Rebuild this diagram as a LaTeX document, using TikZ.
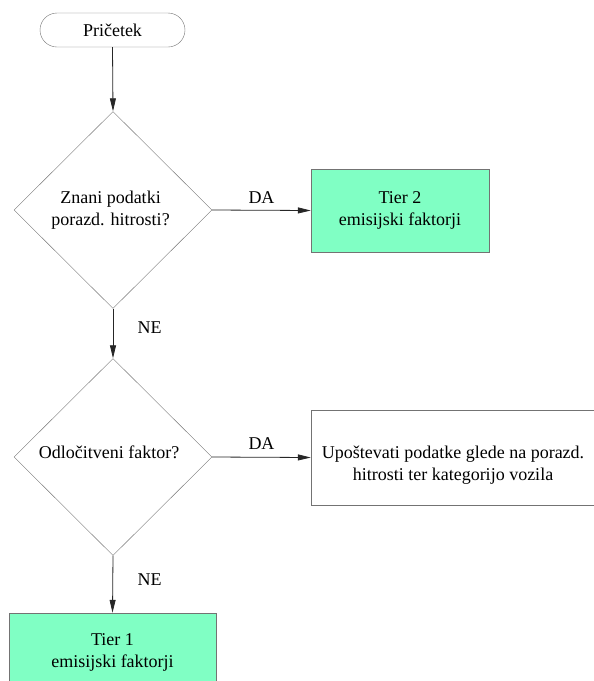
\documentclass[tikz,border=0pt]{standalone}
\usepackage{fontspec}
\setmainfont{Liberation Serif}
\usepackage{tikz}
\usetikzlibrary{positioning,arrows.meta,shapes.geometric}

\definecolor{tiergreen}{RGB}{128,255,196}

\begin{document}
\begin{tikzpicture}[x=1pt,y=-1pt,font=\fontsize{18}{22}\selectfont]
            \tikzstyle{startstop}=[draw=black!55, rounded corners=17pt, minimum width=145pt, minimum height=34pt, inner sep=0pt]
            \tikzstyle{decision}=[draw=black!55, diamond, aspect=1, minimum width=198pt, minimum height=197pt, inner sep=0pt, align=center]
            \tikzstyle{tierbox}=[draw=black!55, fill=tiergreen, inner sep=0pt, align=center]
            \tikzstyle{plainbox}=[draw=black!55, inner sep=0pt, align=center]
            \tikzstyle{line}=[draw=black!85, line width=0.8pt, -{Triangle[length=13pt,width=6pt]}]

            \useasboundingbox (0,0) rectangle (594,681);

            % start
            \node (start) [startstop] at (112.5,30) {Pri\v{c}etek};

            % first question
            \node (q1) [decision] at (113,210) {\hspace*{-5pt}Znani podatki\\\hspace*{-5pt}porazd. hitrosti?};
            \node (tier2) [tierbox, minimum width=178pt, minimum height=83pt] at (400,210.5)
                {\fontsize{18}{26}\selectfont Tier 2\\emisijski faktorji};

            % second question
            \node (q2) [decision, label={[name=q2txt, xshift=-4pt]center:\raisebox{10pt}{Odlo\v{c}itveni faktor?}}] at (113,457) {};
            \node (rule) [plainbox, minimum width=284pt, minimum height=95pt,
                label={[name=ruletxt, align=center, yshift=-8pt]center:Upo\v{s}tevati podatke glede na porazd.\\hitrosti ter kategorijo vozila}]
                at (453,457.5) {};

            % end
            \node (tier1) [tierbox, minimum width=207pt, minimum height=78pt] at (112.5,652)
                {Tier 1\\emisijski faktorji};

            \draw[line] (start.south) -- (q1.north);
            \draw[line] (q1.east) -- node[above=3pt] (da1) {DA} (tier2.west);
            \draw[line] (q1.south) -- node[pos=0.38, right=21pt] (ne1) {NE} (q2.north);
            \draw[line] (q2.east) -- node[above=4pt] (da2) {DA} (rule.west);
            \draw[line] (q2.south) -- node[pos=0.42, right=21pt] (ne2) {NE} (tier1.north);
        \end{tikzpicture}
\end{document}
